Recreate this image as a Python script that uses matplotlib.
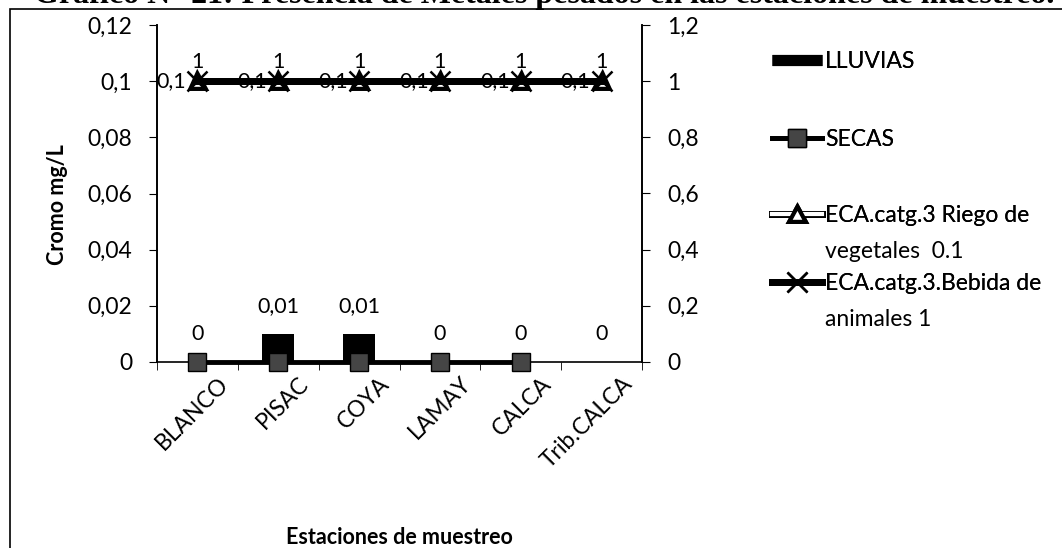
import matplotlib
matplotlib.use("Agg")
import matplotlib.pyplot as plt
import matplotlib.patheffects as pe
import matplotlib.transforms as mtransforms
import numpy as np
from matplotlib.lines import Line2D
from matplotlib.patches import Rectangle
from matplotlib.ticker import FixedLocator, FuncFormatter

plt.rcParams["font.family"] = ["Lato", "DejaVu Sans"]

estaciones = ["BLANCO", "PISAC", "COYA", "LAMAY", "CALCA", "Trib.CALCA"]
lluvias = [0, 0.01, 0.01, 0, 0, 0]
secas = [0, 0, 0, 0, 0, np.nan]
eca_riego = [0.1, 0.1, 0.1, 0.1, 0.1, 0.1]
eca_bebida = [1, 1, 1, 1, 1, 1]

ticks_izq = [0, 0.02, 0.04, 0.06, 0.08, 0.1, 0.12]
ticks_der = [0, 0.2, 0.4, 0.6, 0.8, 1.0, 1.2]

FS = 15.5      # etiquetas de datos y titulos de ejes
FS_TICK = 16.5
FS_LEG = 16.5


def coma(v, pos=None):
    s = f"{v:.2f}".rstrip("0").rstrip(".")
    return s.replace(".", ",")


W, H = 1062, 548
fig = plt.figure(figsize=(W / 100, H / 100), dpi=100)

# marco y titulo cortado del documento original
fig.patches.append(Rectangle((9.5 / W, -0.1), 1.2, (H - 9) / H + 0.1,
                             transform=fig.transFigure, fill=False,
                             edgecolor="black", linewidth=1.2))
fig.text(34 / W, 1 - 3 / H,
         "Gráfico N° 21: Presencia de Metales pesados en las estaciones de muestreo.",
         family="Liberation Serif", weight="bold", fontsize=23,
         ha="left", va="baseline")

ax = fig.add_axes([157 / W, 1 - 362 / H, (642 - 157) / W, (362 - 25) / H])
ax2 = ax.twinx()

x = np.arange(len(estaciones))

ax.bar(x, lluvias, width=0.4, color="black", zorder=2)
(l_secas,) = ax.plot(x, secas, color="black", linewidth=3.5, marker="s",
                     markersize=13, markerfacecolor="#454545",
                     markeredgecolor="black", zorder=3, clip_on=False)
(l_riego,) = ax.plot(x, eca_riego, color="white", linewidth=3, marker="^",
                     markersize=8, markerfacecolor="white",
                     markeredgecolor="black", zorder=3,
                     path_effects=[pe.Stroke(linewidth=5, foreground="black"), pe.Normal()])
(l_bebida,) = ax2.plot(x, eca_bebida, color="black", linewidth=5, marker="x",
                       markersize=15, markeredgewidth=1.8, zorder=4)

# etiquetas de datos
for xi, v in zip(x, lluvias):
    ax.annotate(coma(v), (xi, v), xytext=(0, 28), textcoords="offset pixels",
                ha="center", va="center", fontsize=FS)
for xi, v in zip(x, eca_riego):
    ax.annotate(coma(v), (xi, v), xytext=(-26, 0), textcoords="offset pixels",
                ha="center", va="center", fontsize=FS, zorder=5)
for xi, v in zip(x, eca_bebida):
    ax2.annotate(coma(v), (xi, v), xytext=(0, 19), textcoords="offset pixels",
                 ha="center", va="center", fontsize=FS, zorder=5)

ax.set_xlim(-0.5, len(estaciones) - 0.5)
ax.set_ylim(0, 0.12)
ax2.set_ylim(0, 1.2)
ax.yaxis.set_major_locator(FixedLocator(ticks_izq))
ax2.yaxis.set_major_locator(FixedLocator(ticks_der))
ax.yaxis.set_major_formatter(FuncFormatter(coma))
ax2.yaxis.set_major_formatter(FuncFormatter(coma))
ax.tick_params(axis="y", labelsize=FS_TICK, length=6, pad=12)
ax2.tick_params(axis="y", labelsize=FS_TICK, length=6, pad=12)

ax.set_xticks(x)
ax.set_xticklabels(estaciones, rotation=45, ha="right", rotation_mode="anchor",
                   fontsize=FS_TICK)
ax.set_xticks(np.arange(-0.5, len(estaciones)), minor=True)
ax.tick_params(axis="x", which="major", length=0, pad=8)
ax.tick_params(axis="x", which="minor", length=6)
desplaza = mtransforms.ScaledTranslation(20 / 100, 0, fig.dpi_scale_trans)
for lbl in ax.get_xticklabels():
    lbl.set_transform(lbl.get_transform() + desplaza)

for a in (ax, ax2):
    a.spines["top"].set_visible(False)
    for s in a.spines.values():
        s.set_linewidth(1.2)
ax2.spines["bottom"].set_visible(False)

ax.set_ylabel("Cromo mg/L", fontsize=FS, weight="bold")
ax.yaxis.set_label_coords((68 - 157) / 485, (362 - 205) / 337)
ax.set_xlabel("Estaciones de muestreo", fontsize=FS, weight="bold")
ax.xaxis.set_label_coords(0.5, -(527 - 362) / 337)

# leyenda, una caja por entrada para imitar el espaciado original
h_lluvias = Line2D([0], [0], color="black", linewidth=8, solid_capstyle="butt")
entradas = [
    (h_lluvias, "LLUVIAS", None, 62),
    (l_secas, "SECAS", None, 140),
    (l_riego, "ECA.catg.3 Riego de", "vegetales  0.1", 216),
    (l_bebida, "ECA.catg.3.Bebida de", "animales 1", 284),
]
leyendas = []
for h, txt, txt2, yc in entradas:
    leg = fig.legend(handles=[h], labels=[txt], loc="center left",
                     bbox_to_anchor=(772 / W, 1 - yc / H), frameon=False,
                     fontsize=FS_LEG, handlelength=50 / (FS_LEG * 100 / 72),
                     handletextpad=0.12, borderaxespad=0, borderpad=0)
    fig.add_artist(leg)
    leyendas.append((leg, txt2, yc))

# segunda linea de las entradas largas, alineada con el texto de la leyenda
fig.canvas.draw()
for leg, txt2, yc in leyendas:
    if txt2:
        bb = leg.get_texts()[0].get_window_extent()
        fig.text(bb.x0 / W, 1 - (yc + 35) / H, txt2, fontsize=FS_LEG,
                 ha="left", va="center")

fig.savefig("out.png", dpi=100)
